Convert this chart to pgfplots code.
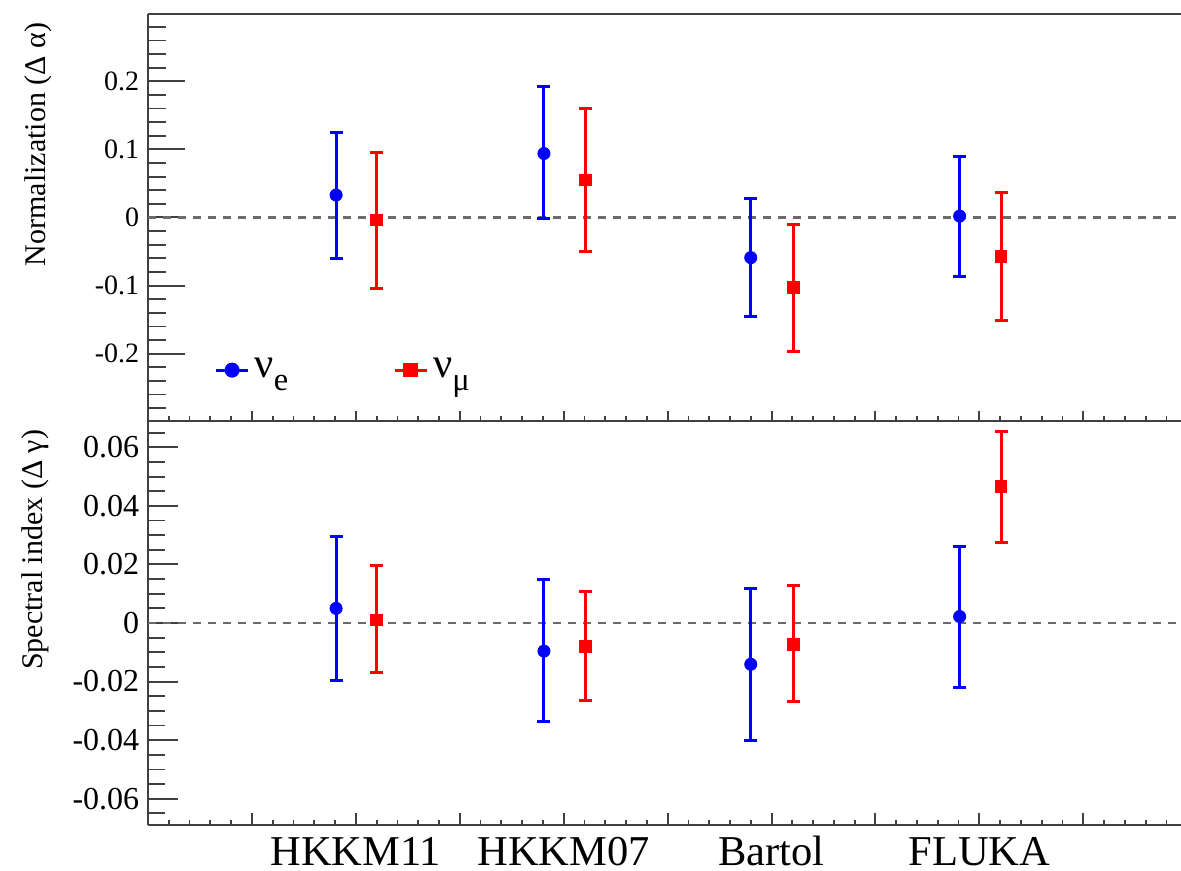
\documentclass[border=0pt]{standalone}
\usepackage{fontspec}
\setmainfont{Liberation Serif}
\usepackage{pgfplots}
\pgfplotsset{compat=1.18}
\usepackage{pgfplotstable}

\definecolor{axgray}{gray}{0.25}
\definecolor{dashgray}{gray}{0.42}
\definecolor{cblue}{RGB}{0,0,255}
\definecolor{cred}{RGB}{255,0,0}

\pgfplotstableread{
x y ep em
1.81 0.033 0.092 0.093
3.81 0.094 0.098 0.095
5.80 -0.059 0.087 0.087
7.81 0.002 0.087 0.088
}\topblue
\pgfplotstableread{
x y ep em
2.20 -0.004 0.100 0.101
4.21 0.055 0.105 0.105
6.21 -0.103 0.093 0.094
8.21 -0.057 0.094 0.094
}\topred
\pgfplotstableread{
x y ep em
1.81 0.0050 0.0247 0.0247
3.81 -0.0096 0.0243 0.0242
5.80 -0.0141 0.0260 0.0262
7.81 0.0022 0.0241 0.0242
}\botblue
\pgfplotstableread{
x y ep em
2.20 0.0011 0.0184 0.0181
4.21 -0.0081 0.0188 0.0185
6.21 -0.0073 0.0201 0.0194
8.21 0.0466 0.0188 0.0190
}\botred

\pgfplotsset{
  panel/.style={
    scale only axis, width=413.2pt,
    xmin=0, xmax=9.94, enlargelimits=false,
    axis x line=box, axis y line=left,
    every outer x axis line/.append style={-},
    every outer y axis line/.append style={-},
    axis line style={axgray, line width=1.1pt, -},
    xtick pos=bottom, ytick pos=left,
    tick align=inside,
    scaled y ticks=false,
    xtick={0,...,9}, minor xtick={0,0.2,...,9.9},
    major tick style={axgray, line width=0.8pt},
    minor tick style={axgray, line width=0.7pt},
    ylabel style={font=\fontsize{12}{12}\selectfont, anchor=base east},
  },
  eblue/.style={only marks, color=cblue, mark=*, mark size=2.4pt,
    error bars/.cd, y dir=both, y explicit,
    error bar style={line width=1.2pt, cblue},
    error mark options={rotate=90, cblue, mark size=2.6pt, line width=1.2pt}},
  ered/.style={only marks, color=cred, mark=square*, mark size=2.3pt,
    error bars/.cd, y dir=both, y explicit,
    error bar style={line width=1.2pt, cred},
    error mark options={rotate=90, cred, mark size=2.6pt, line width=1.2pt}},
  zeroline/.style={forget plot, dashgray, line width=1.0pt, dash pattern=on 3.2pt off 2.8pt},
}

\begin{document}
\begin{tikzpicture}
\useasboundingbox (0,0) rectangle (472.4pt,348.4pt);

\begin{axis}[panel, at={(59.2pt,180pt)}, anchor=south west, height=162.8pt,
  ymin=-0.299, ymax=0.299,
  ytick={-0.2,-0.1,0,0.1,0.2},
  yticklabels={-0.2,-0.1,0,0.1,0.2},
  minor ytick={-0.28,-0.26,...,0.285},
  xticklabels={},
  x tick style={/pgfplots/major tick length=4pt, /pgfplots/minor tick length=2pt},
  y tick style={/pgfplots/major tick length=14.7pt, /pgfplots/minor tick length=7.3pt},
  yticklabel style={font=\fontsize{11.2}{12}\selectfont},
  ylabel={Normalization (Δ α)},
  ylabel style={at={(axis description cs:-0.0988,1)}},
  legend columns=2,
  legend style={at={(axis description cs:0.064,0.125)}, anchor=west, draw=none, fill=none,
    inner sep=0pt, /tikz/every even column/.append style={column sep=40pt}},
  legend image code/.code={\draw[mark repeat=2, mark phase=2] plot coordinates {(0pt,0pt) (6.4pt,0pt) (12.8pt,0pt)};},
]
\addplot[zeroline] coordinates {(0,0) (9.94,0)};
\addplot[forget plot, eblue] table[x=x, y=y, y error plus=ep, y error minus=em] {\topblue};
\addplot[forget plot, ered] table[x=x, y=y, y error plus=ep, y error minus=em] {\topred};
\addlegendimage{cblue, mark=*, mark size=2.4pt, line width=1.2pt}
\addlegendentry{{\fontsize{17}{17}\selectfont ν}\raisebox{-5pt}{\fontsize{13}{13}\selectfont e}}
\addlegendimage{cred, mark=square*, mark size=2.3pt, line width=1.2pt}
\addlegendentry{{\fontsize{17}{17}\selectfont ν}\raisebox{-5pt}{\fontsize{13}{13}\selectfont μ}}
\end{axis}

\begin{axis}[panel, at={(59.2pt,18.4pt)}, anchor=south west, height=161.6pt,
  ymin=-0.069, ymax=0.069,
  ytick={-0.06,-0.04,-0.02,0,0.02,0.04,0.06},
  yticklabels={-0.06,-0.04,-0.02,0,0.02,0.04,0.06},
  minor ytick={-0.065,-0.06,...,0.066},
  xticklabels={,,HKKM11,,HKKM07,,Bartol,,FLUKA,},
  xticklabel style={font=\fontsize{17}{17}\selectfont, anchor=base, inner sep=0pt, yshift=-16.2pt},
  x tick style={/pgfplots/major tick length=4.8pt, /pgfplots/minor tick length=2pt},
  y tick style={/pgfplots/major tick length=12pt, /pgfplots/minor tick length=6.7pt},
  yticklabel style={font=\fontsize{12.8}{13}\selectfont},
  ylabel={Spectral index (Δ γ)},
  ylabel style={at={(axis description cs:-0.1026,1)}},
]
\addplot[zeroline] coordinates {(0,0) (9.94,0)};
\addplot[eblue] table[x=x, y=y, y error plus=ep, y error minus=em] {\botblue};
\addplot[ered] table[x=x, y=y, y error plus=ep, y error minus=em] {\botred};
\end{axis}
\end{tikzpicture}
\end{document}
